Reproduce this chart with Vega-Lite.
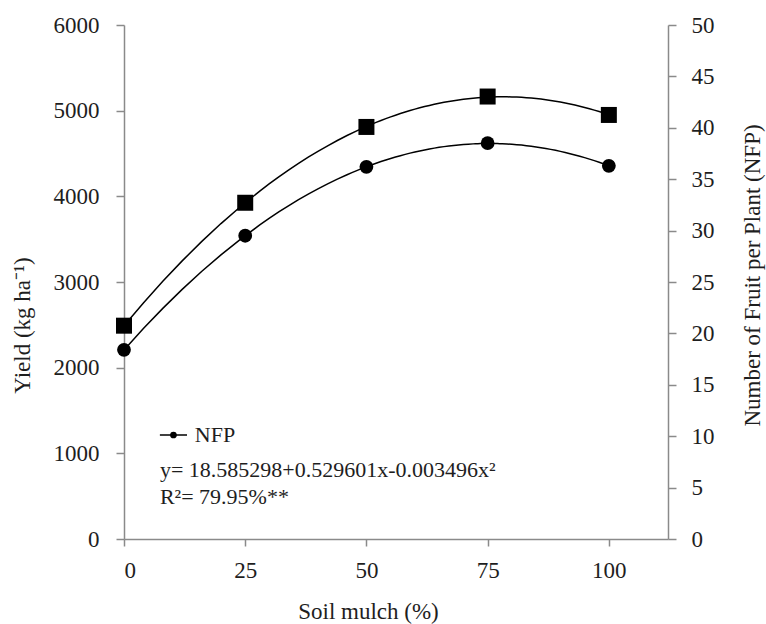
{
  "$schema": "https://vega.github.io/schema/vega-lite/v6.json",
  "width": 544,
  "height": 514,
  "autosize": {"type": "none"},
  "padding": {"left": 124, "top": 25, "right": 98, "bottom": 85},
  "background": "white",
  "config": {
    "view": {"stroke": null},
    "font": "Liberation Serif",
    "axis": {
      "grid": false,
      "domainColor": "#8a8a8a",
      "tickColor": "#8a8a8a",
      "domainWidth": 1.5,
      "tickWidth": 1.5,
      "tickSize": 8,
      "labelFont": "Liberation Serif",
      "labelFontSize": 23,
      "labelColor": "#1e1e1e",
      "titleFont": "Liberation Serif",
      "titleFontSize": 23,
      "titleFontWeight": "normal",
      "titleColor": "#1e1e1e"
    }
  },
  "datasets": {
    "obs": [
      {"mulch": 0, "yield": 2490, "nfp": 18.4},
      {"mulch": 25, "yield": 3925, "nfp": 29.5},
      {"mulch": 50, "yield": 4810, "nfp": 36.2},
      {"mulch": 75, "yield": 5165, "nfp": 38.5},
      {"mulch": 100, "yield": 4950, "nfp": 36.3}
    ],
    "notes": [
      {"x": 14.6, "y": 1214, "label": "NFP"},
      {"x": 7.4, "y": 805, "label": "y= 18.585298+0.529601x-0.003496x²"},
      {"x": 7.4, "y": 490, "label": "R²= 79.95%**"}
    ],
    "key": [
      {"x": 7.4, "x2": 13.0, "xd": 10.2, "y": 1214}
    ]
  },
  "encoding": {
    "x": {
      "field": "mulch",
      "type": "quantitative",
      "scale": {"domain": [0, 112.2], "nice": false, "zero": false},
      "axis": {
        "values": [0, 25, 50, 75, 100],
        "format": "d",
        "title": "Soil mulch (%)",
        "labelPadding": 13,
        "tickSize": 7,
        "titleX": 244,
        "titleY": 72,
        "titleBaseline": "middle",
        "titleAlign": "center"
      }
    }
  },
  "layer": [
    {
      "layer": [
        {
          "data": {"name": "obs"},
          "transform": [
            {"regression": "yield", "on": "mulch", "method": "poly", "order": 2, "extent": [0, 100]}
          ],
          "mark": {"type": "line", "color": "#000000", "strokeWidth": 1.5},
          "encoding": {
            "y": {"field": "yield", "type": "quantitative"}
          }
        },
        {
          "data": {"name": "obs"},
          "mark": {"type": "point", "shape": "square", "filled": true, "color": "#000000", "opacity": 1, "size": 256},
          "encoding": {
            "y": {"field": "yield", "type": "quantitative"}
          }
        },
        {
          "data": {"name": "key"},
          "mark": {"type": "rule", "color": "#000000", "strokeWidth": 1.5},
          "encoding": {
            "x": {"field": "x", "type": "quantitative"},
            "x2": {"field": "x2"},
            "y": {"field": "y", "type": "quantitative"}
          }
        },
        {
          "data": {"name": "key"},
          "mark": {"type": "point", "shape": "circle", "filled": true, "color": "#000000", "opacity": 1, "size": 45},
          "encoding": {
            "x": {"field": "xd", "type": "quantitative"},
            "y": {"field": "y", "type": "quantitative"}
          }
        },
        {
          "data": {"name": "notes"},
          "mark": {"type": "text", "align": "left", "baseline": "middle", "font": "Liberation Serif", "fontSize": 22, "color": "#1e1e1e"},
          "encoding": {
            "x": {"field": "x", "type": "quantitative"},
            "y": {"field": "y", "type": "quantitative"},
            "text": {"field": "label"}
          }
        }
      ],
      "encoding": {
        "y": {
          "scale": {"domain": [0, 6000], "nice": false},
          "axis": {
            "orient": "left",
            "values": [0, 1000, 2000, 3000, 4000, 5000, 6000],
            "format": "d",
            "title": "Yield (kg ha⁻¹)",
            "labelPadding": 17,
            "titleAngle": 270,
            "titleX": -102,
            "titleY": 300,
            "titleAlign": "center",
            "titleBaseline": "middle"
          }
        }
      }
    },
    {
      "layer": [
        {
          "data": {"name": "obs"},
          "transform": [
            {"regression": "nfp", "on": "mulch", "method": "poly", "order": 2, "extent": [0, 100]}
          ],
          "mark": {"type": "line", "color": "#000000", "strokeWidth": 1.5},
          "encoding": {
            "y": {"field": "nfp", "type": "quantitative"}
          }
        },
        {
          "data": {"name": "obs"},
          "mark": {"type": "point", "shape": "circle", "filled": true, "color": "#000000", "opacity": 1, "size": 190},
          "encoding": {
            "y": {"field": "nfp", "type": "quantitative"}
          }
        }
      ],
      "encoding": {
        "y": {
          "scale": {"domain": [0, 50], "nice": false},
          "axis": {
            "orient": "right",
            "values": [0, 5, 10, 15, 20, 25, 30, 35, 40, 45, 50],
            "format": "d",
            "title": "Number of Fruit per Plant (NFP)",
            "labelPadding": 15,
            "titleAngle": 270,
            "titleX": 84,
            "titleY": 250,
            "titleAlign": "center",
            "titleBaseline": "middle"
          }
        }
      }
    }
  ],
  "resolve": {"scale": {"y": "independent"}}
}
